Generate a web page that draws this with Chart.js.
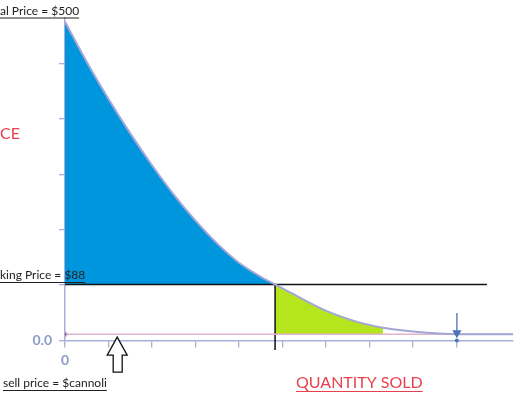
<!DOCTYPE html>
<html>
<head>
<meta charset="utf-8">
<script src="https://cdn.jsdelivr.net/npm/chart.js@4"></script>
<style>
  body { margin: 0; background: #fff; }
  #wrap { width: 520px; height: 400px; }
</style>
</head>
<body>
<div id="wrap"><canvas id="demandChart"></canvas></div>
<script>
// quantity sold (x) and price (y)
const curveX = [0, 0.5, 1.0, 1.5, 2.0, 2.5, 3.0, 3.5, 4.0, 4.5, 4.83, 5.24, 6.02, 6.78, 7.31, 7.54, 8.32, 9.01, 10.3];
const curveY = [500, 437, 379, 325, 275, 229, 188, 152, 122, 100, 88, 73, 46, 28, 20, 17.5, 12, 10, 10];

const askingPrice = 88;      // black horizontal line
const cutQuantity = 4.83;    // black vertical line
const greenEndQuantity = 7.31;
const sellPrice = 10;        // pink line
const arrowQuantity = 9.01;
const arrowTopPrice = 43;
const askingLineEnd = 9.7;
const vertLineBottom = -15;
const upArrowQuantity = 1.2;

const curvePts = curveX.map((x, i) => ({ x: x, y: curveY[i] }));
const bluePts = curvePts.filter(p => p.x <= cutQuantity);
const greenPts = curvePts.filter(p => p.x >= cutQuantity && p.x <= greenEndQuantity);

const axisColor = '#a9b0d8';
const labelColor = '#8d9cc8';

const textPlugin = {
    id: 'texts',
    afterDraw(chart) {
        const c = chart.ctx;
        const xs = chart.scales.x, ys = chart.scales.y;
        c.save();

        function label(txt, x, y, font, color) {
            c.font = font;
            c.fillStyle = color;
            c.strokeStyle = color;
            c.textBaseline = 'alphabetic';
            c.fillText(txt, x, y);
            const w = c.measureText(txt).width;
            c.lineWidth = 1;
            c.beginPath();
            c.moveTo(x, y + 3.5);
            c.lineTo(x + w, y + 3.5);
            c.stroke();
        }

        label('al Price = $500', 0, 14.5, '12px Lato', '#222');
        label('king Price = $88', 0, 279, '12px Lato', '#222');
        label('sell price = $cannoli', 3, 387, '12px Lato', '#222');
        label('QUANTITY SOLD', 296, 388, '16px Lato', '#e8404c');

        c.font = '16px Lato';
        c.fillStyle = '#e8404c';
        c.fillText('CE', 0, 139);

        // hollow up arrow pointing at the sell price line
        const ax = xs.getPixelForValue(upArrowQuantity);
        const ay = ys.getPixelForValue(sellPrice) + 3;
        c.beginPath();
        c.moveTo(ax, ay);
        c.lineTo(ax + 10, ay + 18);
        c.lineTo(ax + 5, ay + 18);
        c.lineTo(ax + 5, ay + 35);
        c.lineTo(ax - 4, ay + 35);
        c.lineTo(ax - 4, ay + 18);
        c.lineTo(ax - 10, ay + 18);
        c.closePath();
        c.fillStyle = '#fff';
        c.fill();
        c.strokeStyle = '#111';
        c.lineWidth = 1.3;
        c.stroke();

        // small marker where the blue arrow meets the axis
        const mx = xs.getPixelForValue(arrowQuantity);
        const my = ys.getPixelForValue(0);
        c.fillStyle = '#4a74b8';
        c.beginPath();
        c.arc(mx, my, 2, 0, Math.PI * 2);
        c.fill();

        c.restore();
    }
};

new Chart(document.getElementById('demandChart'), {
    type: 'line',
    data: {
        datasets: [
            {
                data: [{ x: arrowQuantity, y: arrowTopPrice }, { x: arrowQuantity, y: sellPrice + 2 }],
                borderColor: '#4a74b8',
                backgroundColor: '#4a74b8',
                borderWidth: 1.3,
                pointRadius: [0, 4],
                pointStyle: 'triangle',
                rotation: 180,
                fill: false
            },
            {
                data: curvePts,
                borderColor: '#a4a6d6',
                borderWidth: 2,
                pointRadius: 0,
                cubicInterpolationMode: 'monotone',
                fill: false
            },
            {
                data: [{ x: 0, y: sellPrice }, { x: 10.3, y: sellPrice }],
                borderColor: '#e2b3cc',
                backgroundColor: '#3b5ba5',
                borderWidth: 1.5,
                pointRadius: [2, 0],
                fill: false
            },
            {
                data: [{ x: 0, y: askingPrice }, { x: askingLineEnd, y: askingPrice }],
                borderColor: '#111',
                borderWidth: 1.5,
                pointRadius: 0,
                fill: false
            },
            {
                data: [{ x: cutQuantity, y: askingPrice }, { x: cutQuantity, y: vertLineBottom }],
                borderColor: '#111',
                borderWidth: 1.5,
                pointRadius: 0,
                clip: false,
                fill: false
            },
            {
                data: greenPts,
                borderWidth: 0,
                pointRadius: 0,
                cubicInterpolationMode: 'monotone',
                backgroundColor: '#b5e51d',
                fill: { value: sellPrice }
            },
            {
                data: bluePts,
                borderWidth: 0,
                pointRadius: 0,
                cubicInterpolationMode: 'monotone',
                backgroundColor: '#0096dd',
                fill: { value: askingPrice }
            }
        ]
    },
    options: {
        responsive: true,
        maintainAspectRatio: false,
        animation: false,
        layout: { padding: { top: 18, right: 7, left: 0, bottom: 0 } },
        plugins: {
            legend: { display: false },
            tooltip: { enabled: false }
        },
        scales: {
            x: {
                type: 'linear',
                min: 0,
                max: 10.3,
                afterFit: s => { s.height = 59.5; },
                afterBuildTicks: s => { s.ticks = s.ticks.filter(t => Number.isInteger(t.value)); },
                ticks: {
                    stepSize: 1,
                    autoSkip: false,
                    maxRotation: 0,
                    padding: 5,
                    color: labelColor,
                    font: { family: 'Lato', size: 14, weight: 'bold' },
                    callback: v => v === 0 ? '0' : ''
                },
                grid: { drawOnChartArea: false, tickLength: 7, color: axisColor, lineWidth: 1.3 },
                border: { color: axisColor, width: 1.5 }
            },
            y: {
                min: 0,
                max: 506,
                afterFit: s => { s.width = 65; },
                afterBuildTicks: s => { s.ticks = s.ticks.filter(t => t.value % 87 === 0); },
                ticks: {
                    stepSize: 87,
                    padding: 7,
                    color: labelColor,
                    font: { family: 'Lato', size: 14, weight: 'bold' },
                    callback: v => v === 0 ? '0.0' : ''
                },
                grid: { drawOnChartArea: false, tickLength: 6, color: axisColor, lineWidth: 1.3 },
                border: { color: axisColor, width: 1.5 }
            }
        }
    },
    plugins: [textPlugin]
});
</script>
</body>
</html>
